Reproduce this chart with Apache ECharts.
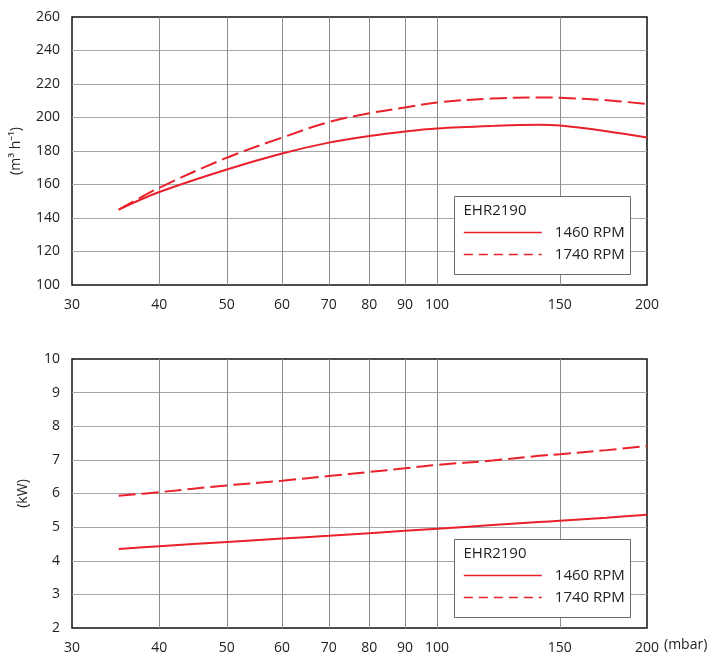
<!DOCTYPE html>
<html>
<head>
<meta charset="utf-8">
<script src="https://cdn.jsdelivr.net/npm/echarts@6.0.0/dist/echarts.min.js"></script>
<style>
  html, body { margin: 0; padding: 0; background: #fff; }
  #main { width: 711px; height: 665px; }
</style>
</head>
<body>
<div id="main"></div>
<script>
// pressure (mbar)
var pressure = [35, 40, 50, 60, 70, 80, 90, 100, 120, 140, 150, 175, 200];
// flow (m3/h)
var flow1460 = [145, 155.5, 169, 178.5, 185, 189, 191.7, 193.5, 195, 195.7, 195.2, 191.8, 188];
var flow1740 = [145, 158, 176, 188, 197.3, 202.5, 206, 209, 211.3, 212, 211.8, 210.3, 208];
// power (kW)
var power1460 = [4.35, 4.43, 4.56, 4.66, 4.74, 4.82, 4.89, 4.95, 5.06, 5.15, 5.19, 5.28, 5.37];
var power1740 = [5.93, 6.04, 6.24, 6.38, 6.52, 6.64, 6.75, 6.85, 6.98, 7.12, 7.17, 7.29, 7.41];
var xTicks = [30, 40, 50, 60, 70, 80, 90, 100, 150, 200];
var seriesNames = ['1460 RPM', '1740 RPM'];
var modelName = 'EHR2190';

var FONT = '"Open Sans", "Noto Sans", sans-serif';
var RED = '#e8212b';
var TXT = '#222';

function pts(ys) {
  return pressure.map(function (p, i) { return [Math.log10(p), ys[i]]; });
}
var logTicks = xTicks.map(function (v) { return Math.log10(v); });

function xAxis(idx, withName) {
  return {
    type: 'value', gridIndex: idx,
    min: Math.log10(30), max: Math.log10(200),
    name: withName ? '(mbar)' : '',
    nameLocation: 'end', nameGap: 17,
    nameTextStyle: { fontFamily: FONT, fontSize: 14, color: TXT, verticalAlign: 'top', padding: [10, 0, 0, 0] },
    axisLine: { show: false },
    axisTick: { show: false, customValues: logTicks },
    axisLabel: {
      customValues: logTicks, margin: 13,
      fontFamily: FONT, fontSize: 14, color: TXT,
      formatter: function (v) { return Math.round(Math.pow(10, v)); }
    },
    splitLine: { show: true, showMinLine: false, showMaxLine: false, lineStyle: { color: '#8c8c8c', width: 1 } }
  };
}
function yAxis(idx, min, max, step, name, gap) {
  return {
    type: 'value', gridIndex: idx, min: min, max: max, interval: step,
    name: name, nameLocation: 'middle', nameGap: gap, nameRotate: 90,
    nameTextStyle: { fontFamily: FONT, fontSize: 14, color: TXT },
    axisLine: { show: false }, axisTick: { show: false },
    axisLabel: { margin: 12, fontFamily: FONT, fontSize: 14, color: TXT },
    splitLine: { show: true, showMinLine: false, showMaxLine: false, lineStyle: { color: '#a6a6a6', width: 1 } }
  };
}
function line(name, idx, ys, dashed) {
  return {
    name: name, type: 'line', xAxisIndex: idx, yAxisIndex: idx,
    data: pts(ys), smooth: 0.35, symbol: 'none', z: 3,
    lineStyle: { color: RED, width: 2, type: dashed ? [17, 6] : 'solid' },
    itemStyle: { color: RED }
  };
}
function legendBox(top) {
  return {
    type: 'group', left: 454, top: top, z: 1,
    children: [
      { type: 'rect', z: 1, shape: { x: 0, y: 0, width: 176, height: 78 },
        style: { fill: '#fff', stroke: '#6b6b6b', lineWidth: 1 } },
      { type: 'text', z: 2, x: 9, y: 14,
        style: { text: modelName, font: '15px ' + FONT, fill: TXT, verticalAlign: 'middle' } }
    ]
  };
}
function legend(top) {
  return {
    orient: 'vertical', left: 463, top: top, z: 20,
    itemWidth: 78, itemHeight: 14, itemGap: 7, padding: 0,
    textStyle: { fontFamily: FONT, fontSize: 15, color: TXT, padding: [0, 0, 0, 8] },
    data: [
      { name: seriesNames[0], itemStyle: { opacity: 0 }, lineStyle: { type: 'solid', width: 1.6, color: RED } },
      { name: seriesNames[1], itemStyle: { opacity: 0 }, lineStyle: { type: [9, 6], width: 1.6, color: RED } }
    ]
  };
}

var chart = echarts.init(document.getElementById('main'), null, { renderer: 'canvas' });
chart.setOption({
  animation: false,
  backgroundColor: '#fff',
  grid: [
    { left: 72, top: 17, width: 575, height: 268, show: true, borderColor: '#111', borderWidth: 1.5, backgroundColor: 'transparent' },
    { left: 72, top: 359, width: 575, height: 269, show: true, borderColor: '#111', borderWidth: 1.5, backgroundColor: 'transparent' }
  ],
  xAxis: [xAxis(0, false), xAxis(1, true)],
  yAxis: [
    yAxis(0, 100, 260, 20, '(m\u00b3 h\u207b\u00b9)', 49),
    yAxis(1, 2, 10, 1, '(kW)', 42)
  ],
  graphic: [legendBox(196), legendBox(539)],
  legend: [legend(225), legend(568)],
  series: [
    line(seriesNames[0], 0, flow1460, false),
    line(seriesNames[1], 0, flow1740, true),
    line(seriesNames[0], 1, power1460, false),
    line(seriesNames[1], 1, power1740, true)
  ]
});
</script>
</body>
</html>
